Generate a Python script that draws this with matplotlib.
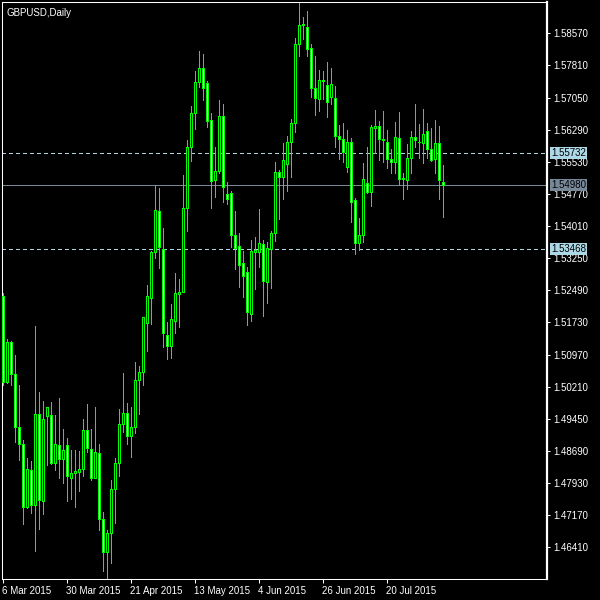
import matplotlib
matplotlib.use("Agg")
import matplotlib.pyplot as plt
import matplotlib.transforms as mtransforms
import numpy as np
import pandas as pd

# GBPUSD daily candles, 6 Mar 2015 .. 7 Aug 2015 (business days)
opens = [1.5236, 1.5032, 1.5126, 1.5052, 1.4926, 1.4885, 1.4737, 1.4824, 1.4742, 1.4956,
         1.4751, 1.4952, 1.4954, 1.4841, 1.4882, 1.4849, 1.4882, 1.4806, 1.4816, 1.4819,
         1.4826, 1.4918, 1.4874, 1.4806, 1.4864, 1.4709, 1.4630, 1.4674, 1.4778, 1.4840,
         1.4932, 1.4958, 1.4905, 1.4925, 1.5036, 1.5055, 1.5172, 1.5230, 1.5339, 1.5436,
         1.5347, 1.5143, 1.5117, 1.5177, 1.5241, 1.5246, 1.5443, 1.5588, 1.5668, 1.5743,
         1.5774, 1.5739, 1.5652, 1.5510, 1.5532, 1.5661, 1.5476, 1.5479, 1.5381, 1.5354,
         1.5313, 1.5292, 1.5194, 1.5339, 1.5339, 1.5358, 1.5268, 1.5346, 1.5384, 1.5529,
         1.5516, 1.5548, 1.5601, 1.5646, 1.5831, 1.5876, 1.5871, 1.5822, 1.5727, 1.5702,
         1.5745, 1.5734, 1.5706, 1.5703, 1.5614, 1.5606, 1.5541, 1.5601, 1.5463, 1.5361,
         1.5379, 1.5502, 1.5482, 1.5634, 1.5638, 1.5606, 1.5599, 1.5560, 1.5553, 1.5609,
         1.5512, 1.5509, 1.5561, 1.5611, 1.5601, 1.5597, 1.5627, 1.5583, 1.5560, 1.5597,
         1.5506]
highs = [1.5243, 1.5135, 1.5129, 1.5096, 1.5025, 1.4896, 1.4852, 1.4845, 1.5165, 1.5009,
         1.4987, 1.4974, 1.4985, 1.4954, 1.4995, 1.4921, 1.4899, 1.4871, 1.4871, 1.4868,
         1.4944, 1.4980, 1.4921, 1.4973, 1.4885, 1.4724, 1.4682, 1.4800, 1.4852, 1.4968,
         1.5053, 1.4982, 1.4973, 1.5079, 1.5071, 1.5187, 1.5262, 1.5343, 1.5497, 1.5491,
         1.5396, 1.5174, 1.5216, 1.5291, 1.5275, 1.5522, 1.5605, 1.5685, 1.5768, 1.5815,
         1.5808, 1.5745, 1.5668, 1.5589, 1.5699, 1.5690, 1.5506, 1.5485, 1.5437, 1.5385,
         1.5342, 1.5304, 1.5368, 1.5376, 1.5441, 1.5368, 1.5363, 1.5389, 1.5552, 1.5534,
         1.5597, 1.5614, 1.5654, 1.5845, 1.5928, 1.5895, 1.5910, 1.5832, 1.5803, 1.5770,
         1.5768, 1.5789, 1.5775, 1.5732, 1.5640, 1.5644, 1.5628, 1.5610, 1.5467, 1.5419,
         1.5550, 1.5588, 1.5640, 1.5675, 1.5650, 1.5673, 1.5628, 1.5584, 1.5647, 1.5671,
         1.5526, 1.5595, 1.5627, 1.5690, 1.5643, 1.5678, 1.5645, 1.5633, 1.5652, 1.5637,
         1.5546]
lows = [1.5025, 1.5029, 1.5025, 1.4891, 1.4848, 1.4696, 1.4733, 1.4723, 1.4633, 1.4685,
        1.4720, 1.4836, 1.4838, 1.4825, 1.4806, 1.4794, 1.4751, 1.4755, 1.4737, 1.4775,
        1.4810, 1.4866, 1.4800, 1.4804, 1.4682, 1.4586, 1.4566, 1.4603, 1.4699, 1.4810,
        1.4915, 1.4885, 1.4854, 1.4912, 1.4956, 1.5025, 1.5106, 1.5169, 1.5326, 1.5302,
        1.5114, 1.5087, 1.5089, 1.5149, 1.5163, 1.5244, 1.5390, 1.5556, 1.5631, 1.5729,
        1.5699, 1.5636, 1.5444, 1.5470, 1.5527, 1.5458, 1.5454, 1.5352, 1.5300, 1.5258,
        1.5233, 1.5168, 1.5177, 1.5251, 1.5305, 1.5189, 1.5220, 1.5254, 1.5366, 1.5418,
        1.5466, 1.5484, 1.5517, 1.5623, 1.5803, 1.5843, 1.5804, 1.5706, 1.5664, 1.5673,
        1.5702, 1.5659, 1.5690, 1.5587, 1.5560, 1.5553, 1.5529, 1.5411, 1.5336, 1.5344,
        1.5363, 1.5479, 1.5449, 1.5573, 1.5557, 1.5553, 1.5539, 1.5526, 1.5527, 1.5498,
        1.5466, 1.5489, 1.5526, 1.5587, 1.5561, 1.5550, 1.5563, 1.5555, 1.5526, 1.5466,
        1.5423]
closes = [1.5032, 1.5126, 1.5052, 1.4926, 1.4885, 1.4737, 1.4826, 1.4742, 1.4956, 1.4753,
          1.4944, 1.4973, 1.4841, 1.4885, 1.4849, 1.4871, 1.4809, 1.4816, 1.4821, 1.4826,
          1.4919, 1.4877, 1.4806, 1.4866, 1.4709, 1.4630, 1.4674, 1.4778, 1.4840, 1.4932,
          1.4958, 1.4905, 1.4925, 1.5036, 1.5055, 1.5185, 1.5236, 1.5340, 1.5438, 1.5352,
          1.5147, 1.5117, 1.5180, 1.5243, 1.5246, 1.5443, 1.5588, 1.5668, 1.5743, 1.5774,
          1.5727, 1.5650, 1.5508, 1.5532, 1.5661, 1.5494, 1.5465, 1.5380, 1.5349, 1.5310,
          1.5283, 1.5198, 1.5343, 1.5344, 1.5361, 1.5270, 1.5349, 1.5384, 1.5529, 1.5517,
          1.5557, 1.5599, 1.5645, 1.5831, 1.5877, 1.5879, 1.5821, 1.5728, 1.5703, 1.5746,
          1.5747, 1.5695, 1.5736, 1.5613, 1.5606, 1.5577, 1.5601, 1.5459, 1.5361, 1.5380,
          1.5512, 1.5482, 1.5635, 1.5638, 1.5606, 1.5605, 1.5560, 1.5553, 1.5611, 1.5512,
          1.5515, 1.5561, 1.5611, 1.5604, 1.5599, 1.5620, 1.5584, 1.5558, 1.5597, 1.5510,
          1.5498]

dates = pd.bdate_range("2015-03-06", periods=len(opens))

price_ticks = [1.5857, 1.5781, 1.5705, 1.5629, 1.5553, 1.5477, 1.5401, 1.5325, 1.5249,
               1.5173, 1.5097, 1.5021, 1.4945, 1.4869, 1.4793, 1.4717, 1.4641]
date_tick_idx = [0, 16, 32, 48, 64, 80, 96]

# horizontal levels: (price, line colour, label bg, dashed)
levels = [(1.55732, "#add8e6", "#add8e6", True),
          (1.54980, "#778899", "#778899", False),
          (1.53468, "#add8e6", "#add8e6", True)]

GREEN = "#00ff00"


def main():
    plt.rcParams["font.family"] = ["Liberation Sans", "DejaVu Sans"]
    plt.rcParams["font.size"] = 7

    fig = plt.figure(figsize=(6, 6), dpi=100, facecolor="black")
    ax = fig.add_axes([2 / 600, 21 / 600, 545 / 600, 577 / 600], facecolor="black")

    o = np.array(opens); h = np.array(highs); l = np.array(lows); c = np.array(closes)
    x = np.arange(len(o))

    # wicks, then bodies: black body = up day, white body = down day
    ax.vlines(x, l, h, colors=GREEN, linewidths=0.72, antialiaseds=False, zorder=2)
    bottom = np.minimum(o, c)
    height = np.abs(c - o)
    fills = np.where(c >= o, "black", "white")
    bars = ax.bar(x, height, bottom=bottom, width=0.5, color=fills, edgecolor=GREEN,
                  linewidth=0.72, zorder=3)
    for b in bars:
        b.set_antialiased(False)

    trans = mtransforms.blended_transform_factory(ax.transAxes, ax.transData)
    for price, lc, bg, dashed in levels:
        ax.axhline(price, color=lc, linewidth=0.72, antialiased=False,
                   linestyle=(0, (4, 3)) if dashed else "-", zorder=1)
        ax.text(1.0075, price, f"{price:.5f}", transform=trans, ha="left", va="center",
                color="black", fontsize=7, zorder=10, clip_on=False,
                bbox=dict(boxstyle="square,pad=0.12", fc=bg, ec="none"))

    ax.set_xlim(-0.125, 136.125)
    ax.set_ylim(1.45661, 1.59311)

    ax.yaxis.tick_right()
    ax.set_yticks(price_ticks)
    ax.set_yticklabels([f"{p:.5f}" for p in price_ticks])
    ax.set_xticks(date_tick_idx)
    ax.set_xticklabels([f"{dates[i].day} {dates[i].strftime('%b %Y')}" for i in date_tick_idx],
                       ha="left")
    ax.tick_params(axis="y", colors="white", length=2.5, width=0.75, pad=2)
    ax.tick_params(axis="x", colors="white", length=3, width=0.75, pad=2)

    for sp in ax.spines.values():
        sp.set_color("white")
        sp.set_linewidth(0.75)
    ax.spines["right"].set_linewidth(1.6)

    ax.text(0.009, 0.99, "GBPUSD,Daily", transform=ax.transAxes, color="white",
            fontsize=7, ha="left", va="top")

    fig.savefig("out.png", dpi=100, facecolor="black")


if __name__ == "__main__":
    main()
